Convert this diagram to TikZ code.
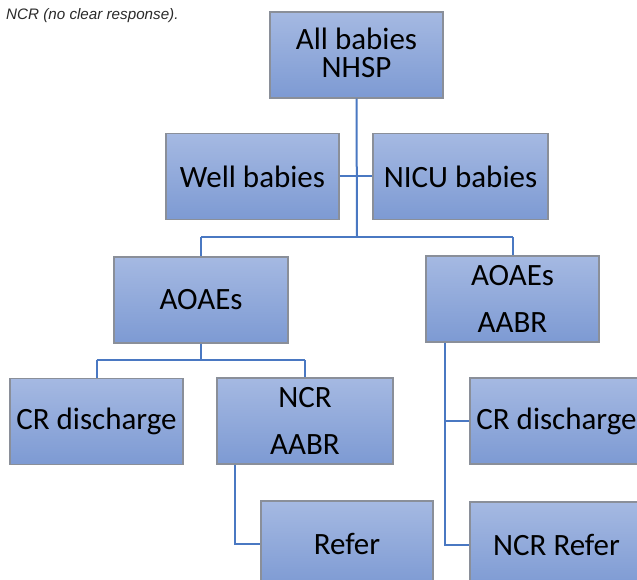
\documentclass[tikz,border=0pt]{standalone}
\usepackage{fontspec}
\setmainfont{Carlito}
\newfontfamily\capfont{Liberation Sans}
\definecolor{boxtop}{HTML}{A5B9E2}
\definecolor{boxbot}{HTML}{7D9AD3}
\definecolor{boxedge}{HTML}{8A8F99}
\definecolor{link}{HTML}{4A78C2}
\definecolor{captxt}{HTML}{2A2A2A}
\tikzset{
  box/.style={rectangle, top color=boxtop, bottom color=boxbot, draw=boxedge, line width=1.3pt,
    minimum width=#1, minimum height=86pt, inner sep=0pt, align=center,
    font=\fontsize{31}{47}\selectfont, text=black},
  box/.default=173pt,
  conn/.style={draw=link, line width=2pt}
}
\begin{document}
\begin{tikzpicture}[x=1pt,y=-1pt]
\useasboundingbox (0,0) rectangle (637,580);
\clip (0,0) rectangle (637,580);
\node[anchor=west, font=\capfont\itshape\fontsize{15.2}{17}\selectfont, text=captxt, inner sep=0pt] (cap) at (6,16) {NCR (no clear response).};
% boxes
\node[box, font=\fontsize{31}{28}\selectfont] (top) at (356.5,55) {All babies\\NHSP\rule[-4pt]{0pt}{1pt}};
\node[box] (well) at (252.5,176.5) {Well babies};
\node[box=175pt] (nicu) at (460.5,176.5) {NICU babies};
\node[box=174pt] (aoa1) at (201,300) {AOAEs};
\node[box] (aoa2) at (512.5,299) {AOAEs\\AABR};
\node[box] (crd1) at (96.5,421.5) {CR discharge};
\node[box=176pt] (ncr1) at (305,421) {NCR\\AABR};
\node[box=172pt] (refer) at (347,544) {Refer};
\node[box] (crd2) at (556.5,421) {CR discharge};
\node[box] (ncrr) at (556.5,545) {NCR Refer};
% coordinates
\coordinate (bus) at (357,237);
\coordinate (busL) at (201,237);
\coordinate (busR) at (512.5,237);
\coordinate (b1) at (201,360);
\coordinate (b1L) at (96.5,360);
\coordinate (b1R) at (305,360);
\coordinate (r1) at (235,544);
\coordinate (r2) at (445,545);
\coordinate (r2m) at (445,421);
% connectors
\draw[conn] (top.south) -- (bus);
\draw[conn] (well.east) -- (nicu.west);
\draw[conn] (busL) -- (busR);
\draw[conn] (busL) -- (aoa1.north);
\draw[conn] (busR) -- (aoa2.north);
\draw[conn] (aoa1.south) -- (b1);
\draw[conn] (b1L) -- (b1R);
\draw[conn] (b1L) -- (crd1.north);
\draw[conn] (b1R) -- (ncr1.north);
\draw[conn] (ncr1.south -| r1) -- (r1) -- (refer.west);
\draw[conn] (aoa2.south -| r2) -- (r2) -- (ncrr.west);
\draw[conn] (r2m) -- (crd2.west);
\end{tikzpicture}
\end{document}
